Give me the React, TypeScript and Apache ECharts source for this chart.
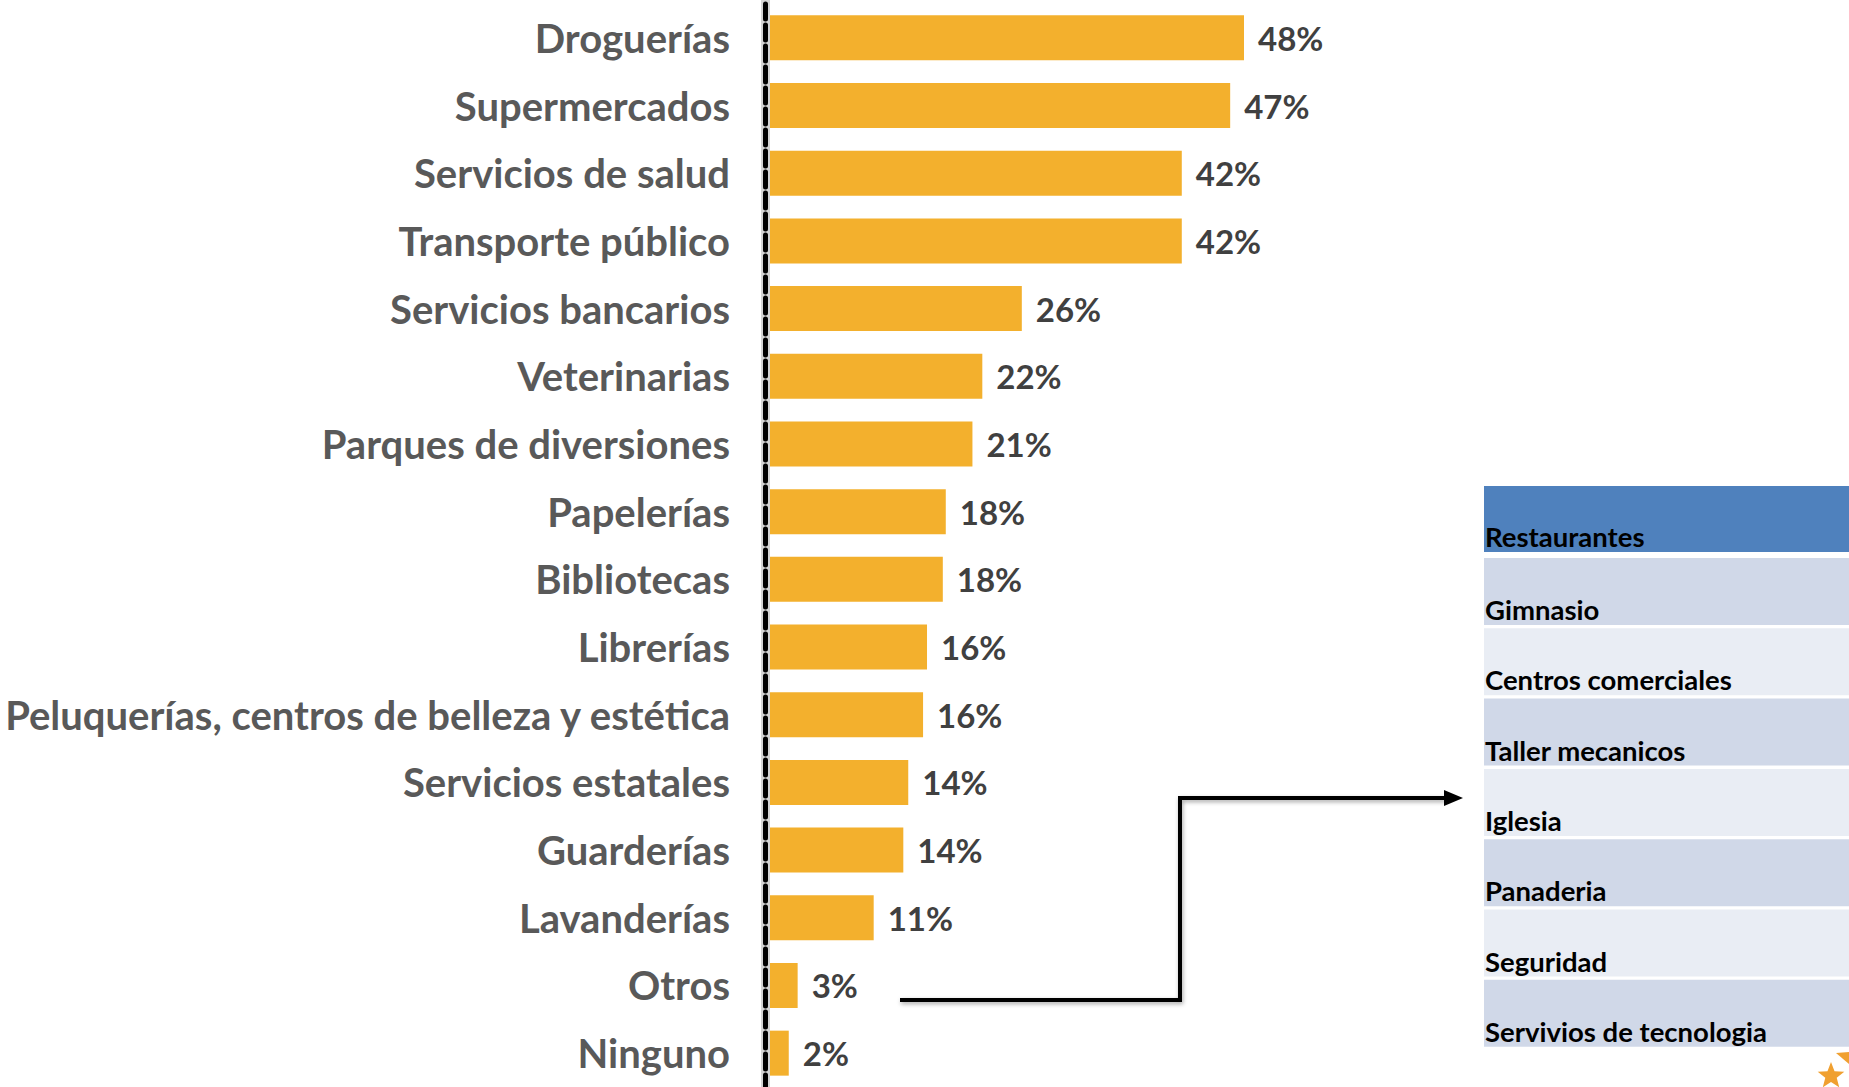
import React, { useEffect, useRef } from "react";
import * as echarts from "echarts";

const categories: string[] = [
  "Droguerías",
  "Supermercados",
  "Servicios de salud",
  "Transporte público",
  "Servicios bancarios",
  "Veterinarias",
  "Parques de diversiones",
  "Papelerías",
  "Bibliotecas",
  "Librerías",
  "Peluquerías, centros de belleza y estética",
  "Servicios estatales",
  "Guarderías",
  "Lavanderías",
  "Otros",
  "Ninguno",
];

const values: number[] = [48, 46.6, 41.7, 41.7, 25.5, 21.5, 20.5, 17.8, 17.5, 15.9, 15.5, 14.0, 13.5, 10.5, 2.8, 1.9];

const otrosItems: string[] = [
  "Restaurantes",
  "Gimnasio",
  "Centros comerciales",
  "Taller mecanicos",
  "Iglesia",
  "Panaderia",
  "Seguridad",
  "Servivios de tecnologia",
];

const FONT = "Lato, 'Open Sans', sans-serif";

function buildGraphics() {
  const els: any[] = [];
  // soft grey halo behind the dashed axis line
  els.push({
    type: "rect",
    shape: { x: 761, y: 0, width: 9, height: 1087 },
    style: { fill: "#d4d4d4" },
    z: 0,
  });
  // table
  const tx = 1484;
  const tw = 365;
  const rowColors = ["#D0D8E8", "#E9EDF4"];
  otrosItems.forEach((name, i) => {
    let y0: number, h: number, fill: string;
    if (i === 0) {
      y0 = 486;
      h = 66;
      fill = "#4F81BD";
    } else {
      y0 = 558 + 70.3 * (i - 1);
      h = 67;
      fill = rowColors[(i - 1) % 2];
    }
    els.push({
      type: "rect",
      shape: { x: tx, y: y0, width: tw, height: h },
      style: { fill },
      z: 10,
    });
    els.push({
      type: "text",
      x: tx + 1,
      y: y0 + h - 1.5,
      style: {
        text: name,
        fill: "#000000",
        font: `bold 27.5px ${FONT}`,
        verticalAlign: "bottom",
        align: "left",
      },
      z: 11,
    });
  });
  // connector
  const shadow = { shadowColor: "rgba(0,0,0,0.35)", shadowBlur: 4, shadowOffsetX: 1, shadowOffsetY: 2 };
  els.push({
    type: "polyline",
    shape: { points: [[900, 1000], [1180, 1000], [1180, 798], [1446, 798]] },
    style: { stroke: "#000000", lineWidth: 4, fill: null, lineJoin: "miter", ...shadow },
    z: 12,
  });
  els.push({
    type: "polygon",
    shape: { points: [[1444, 790], [1463, 798], [1444, 806]] },
    style: { fill: "#000000" },
    z: 12,
  });
  // star logo fragment
  const cx = 1831, cy = 1076, R = 14, r = 6;
  const pts: number[][] = [];
  for (let k = 0; k < 10; k++) {
    const ang = -Math.PI / 2 + (k * Math.PI) / 5;
    const rad = k % 2 === 0 ? R : r;
    pts.push([cx + rad * Math.cos(ang), cy + rad * Math.sin(ang)]);
  }
  els.push({ type: "polygon", shape: { points: pts }, style: { fill: "#F0A030" }, z: 12 });
  els.push({
    type: "polygon",
    shape: { points: [[1836, 1053], [1849, 1052], [1849, 1064]] },
    style: { fill: "#F0A030" },
    z: 12,
  });
  return els;
}

export default function App() {
  const ref = useRef<HTMLDivElement>(null);
  useEffect(() => {
    if (!ref.current) return;
    const chart = echarts.init(ref.current, undefined, { renderer: "svg" });
    const pxPerUnit = 9.875;
    const xMax = 60;
    chart.setOption({
      animation: false,
      backgroundColor: "#ffffff",
      grid: { left: 770, top: 4, width: xMax * pxPerUnit, height: 1084, containLabel: false },
      xAxis: {
        type: "value",
        min: 0,
        max: xMax,
        show: false,
        splitLine: { show: false },
      },
      yAxis: {
        type: "category",
        data: categories,
        inverse: true,
        offset: 4.5,
        z: 5,
        axisTick: { show: false },
        axisLine: {
          show: true,
          onZero: false,
          lineStyle: {
            color: "#000000",
            width: 5,
            type: [15, 6],
          },
        },
        axisLabel: {
          margin: 35.5,
          fontSize: 40,
          fontWeight: "bold",
          fontFamily: FONT,
          color: "#595959",
        },
      },
      series: [
        {
          type: "bar",
          data: values,
          barWidth: 45,
          itemStyle: { color: "#F3B02D" },
          label: {
            show: true,
            position: "right",
            distance: 14,
            formatter: (p: any) => `${Math.round(p.value)}%`,
            fontSize: 33,
            fontWeight: "bold",
            fontFamily: FONT,
            color: "#404040",
          },
        },
      ],
      graphic: buildGraphics(),
    });
    return () => chart.dispose();
  }, []);
  return (
    <div
      ref={ref}
      style={{ position: "fixed", left: 0, top: 0, width: 1849, height: 1087, background: "#fff" }}
    />
  );
}
